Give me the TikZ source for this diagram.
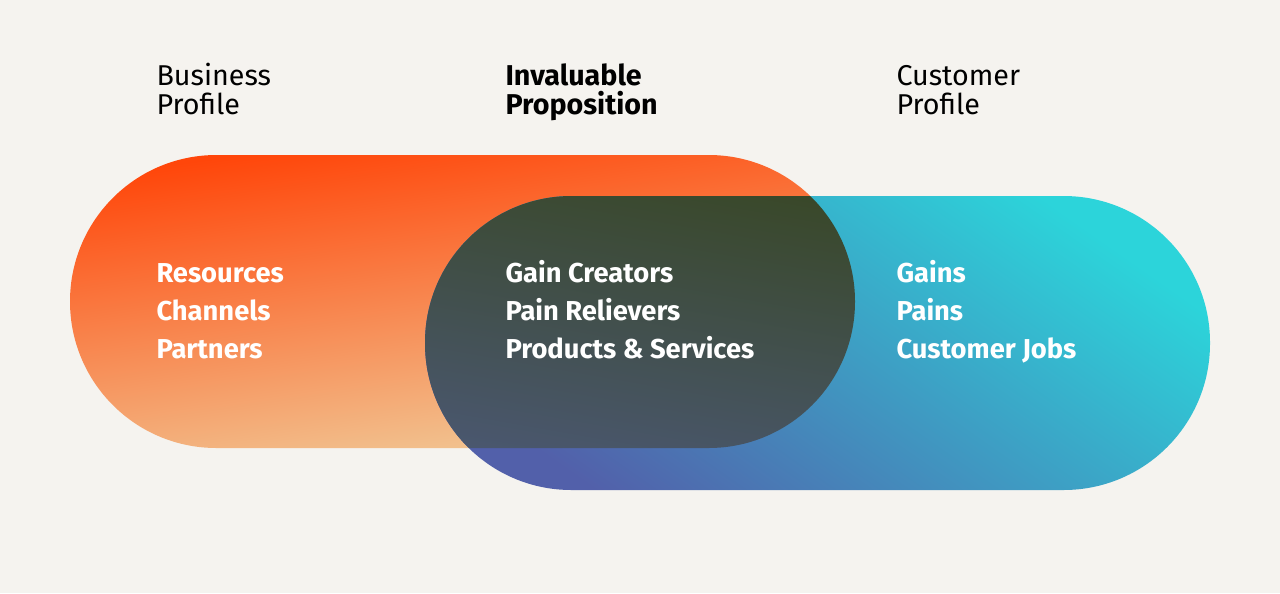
\documentclass[tikz,border=0pt]{standalone}
\usepackage{fontspec}
\setmainfont{Fira Sans}
\definecolor{bgcol}{RGB}{245,243,239}
\definecolor{orangetop}{RGB}{255,70,10}
\definecolor{orangebot}{RGB}{240,205,155}
\definecolor{bluetop}{RGB}{44,212,218}
\definecolor{bluebot}{RGB}{82,96,170}
\definecolor{midtop}{RGB}{55,70,32}
\definecolor{midbot}{RGB}{75,88,115}
\tikzset{every picture/.style={line width=0.75pt}}
\tikzset{
  headtext/.style={anchor=base west,inner sep=0.75pt,font=\fontsize{21.5}{25}\selectfont,text=black},
  itemtext/.style={anchor=base west,inner sep=0.75pt,font=\fontsize{20.5}{24}\selectfont\bfseries,text=white},
  pill/.style={rounded corners=109.8pt}
}
\begin{document}
\begin{tikzpicture}[x=0.75pt,y=0.75pt,yscale=-1,xscale=1]
%Background
\fill[bgcol] (0,0) rectangle (1280,593);
\useasboundingbox (0,0) rectangle (1280,593);

%Shape: Orange pill
\shade[pill,top color=orangetop,bottom color=orangebot,shading angle=8] (70,155) rectangle (855,448);
%Shape: Blue pill
\shade[pill,top color=bluetop,bottom color=bluebot,shading angle=-35] (425,196) rectangle (1210,490);
%Shape: Overlap
\begin{scope}
\clip[pill] (70,155) rectangle (855,448);
\shade[pill,top color=midtop,bottom color=midbot,shading angle=-10] (425,196) rectangle (1210,490);
\end{scope}

% Text Node
\node[headtext] (bizA) at (155,85) {Business};
\node[headtext] (bizB) at (155,114) {Profile};
\node[headtext,font=\fontsize{21.5}{25}\selectfont\bfseries] (propA) at (504,85) {Invaluable};
\node[headtext,font=\fontsize{21.5}{25}\selectfont\bfseries] (propB) at (504,114) {Proposition};
\node[headtext] (custA) at (895,85) {Customer};
\node[headtext] (custB) at (895,114) {Profile};
% Items
\node[itemtext] (res) at (155,282) {Resources};
\node[itemtext] (chan) at (155,320) {Channels};
\node[itemtext] (part) at (155,358) {Partners};
\node[itemtext] (gain) at (504,282) {Gain Creators};
\node[itemtext] (pain) at (504,320) {Pain Relievers};
\node[itemtext] (prod) at (504,358) {Products \& Services};
\node[itemtext] (gains) at (895,282) {Gains};
\node[itemtext] (pains) at (895,320) {Pains};
\node[itemtext] (jobs) at (895,358) {Customer Jobs};
\end{tikzpicture}
\end{document}
